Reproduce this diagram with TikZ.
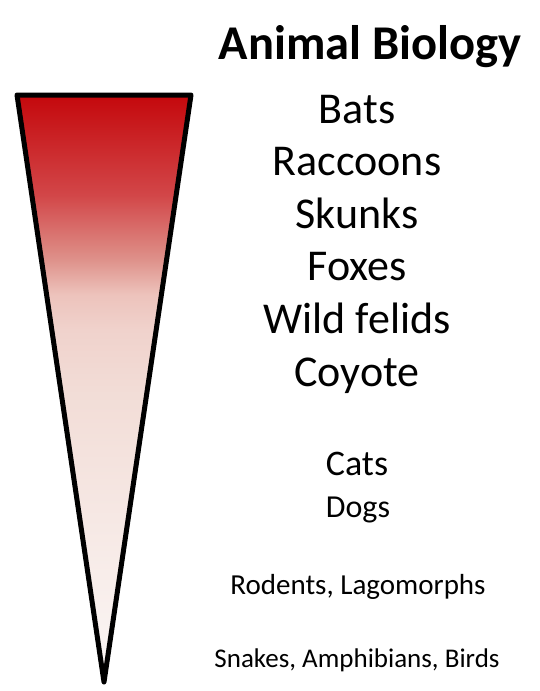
\documentclass[tikz,border=0pt]{standalone}
\usepackage{fontspec}
\setmainfont{Carlito}
\definecolor{c0}{RGB}{196,8,12}
\definecolor{c1}{RGB}{210,70,72}
\definecolor{c2}{RGB}{222,145,138}
\definecolor{c3}{RGB}{237,195,188}
\definecolor{c4}{RGB}{240,210,204}
\definecolor{c5}{RGB}{242,221,215}
\definecolor{c6}{RGB}{250,243,241}
\definecolor{c7}{RGB}{252,248,248}
\pgfdeclareverticalshading{redfade}{100bp}{%
  color(0bp)=(c7); color(25bp)=(c7); color(28.5bp)=(c6);
  color(49.5bp)=(c5); color(55bp)=(c4); color(58bp)=(c3);
  color(61bp)=(c2); color(66.5bp)=(c1); color(75bp)=(c0); color(100bp)=(c0)}
\tikzset{
  lbl/.style={anchor=base, inner sep=0pt, text=black},
  big/.style={lbl, font=\fontsize{44}{50}\selectfont},
  mid/.style={lbl, font=\fontsize{36}{40}\selectfont},
  midsmall/.style={lbl, font=\fontsize{32}{36}\selectfont},
  small/.style={lbl, font=\fontsize{27}{30}\selectfont},
  ttl/.style={lbl, font=\bfseries\fontsize{48.5}{54}\selectfont},
}
\begin{document}
\begin{tikzpicture}[x=1pt,y=-1pt]
\useasboundingbox (0,0) rectangle (539,691);
\coordinate (tl) at (17,95);
\coordinate (tr) at (191,95);
\coordinate (tip) at (104,682);
\shade[shading=redfade] (tl) -- (tr) -- (tip) -- cycle;
\draw[line width=5pt, line join=round] (tl) -- (tr) -- (tip) -- cycle;
\node[ttl] (title) at (370,59) {Animal Biology};
\node[big] (bats) at (357,123) {Bats};
\node[big] (racc) at (357,175.6) {Raccoons};
\node[big] (skunks) at (357,228.2) {Skunks};
\node[big] (foxes) at (357,280.8) {Foxes};
\node[big] (wild) at (357,333.4) {Wild felids};
\node[big] (coyote) at (357,386) {Coyote};
\node[mid] (cats) at (357,475) {Cats};
\node[midsmall] (dogs) at (358,517) {Dogs};
\node[small, font=\fontsize{29}{32}\selectfont] (rod) at (358,594) {Rodents, Lagomorphs};
\node[small] (snk) at (357,667) {Snakes, Amphibians, Birds};
\end{tikzpicture}
\end{document}
